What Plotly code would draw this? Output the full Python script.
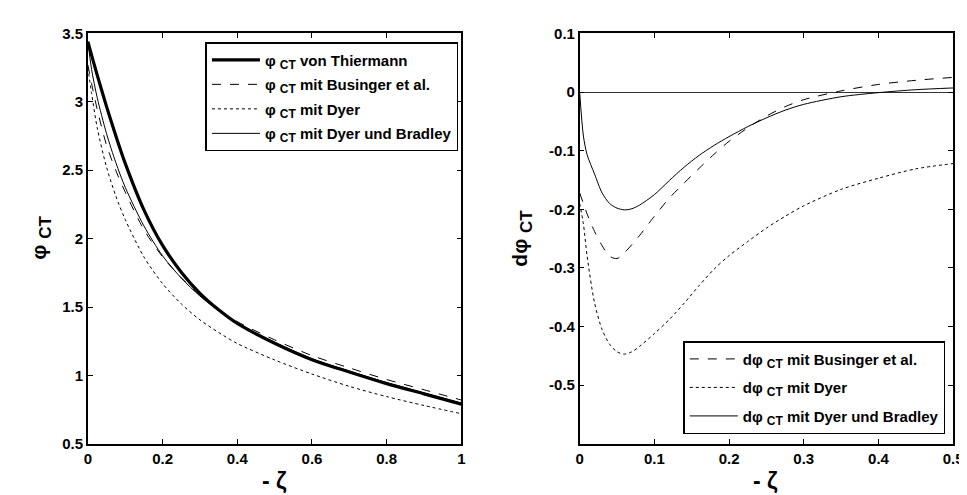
import plotly.graph_objects as go

# ---------------- data: left panel (phi_CT vs -zeta) ----------------
zeta_left = [0, 0.01, 0.025, 0.05, 0.075, 0.1, 0.15, 0.2, 0.25, 0.3, 0.35, 0.4, 0.5, 0.6, 0.7, 0.8, 0.9, 1.0]
phi_thiermann = [3.44, 3.34, 3.195, 2.965, 2.75, 2.55, 2.21, 1.95, 1.755, 1.60, 1.48, 1.38, 1.235, 1.115, 1.025, 0.94, 0.865, 0.79]
phi_businger = [3.27, 3.132, 2.945, 2.682, 2.497, 2.34, 2.065, 1.867, 1.714, 1.587, 1.482, 1.393, 1.26, 1.145, 1.055, 0.97, 0.895, 0.82]
phi_dyer = [3.25, 3.06, 2.81, 2.522, 2.31, 2.14, 1.866, 1.671, 1.523, 1.406, 1.314, 1.233, 1.113, 1.01, 0.92, 0.845, 0.78, 0.72]
phi_dyer_bradley = [3.44, 3.235, 3.03, 2.767, 2.554, 2.375, 2.093, 1.874, 1.712, 1.58, 1.472, 1.38, 1.242, 1.122, 1.032, 0.947, 0.872, 0.797]

# ---------------- data: right panel (d phi_CT vs -zeta) ----------------
zeta_right = [0, 0.005, 0.01, 0.02, 0.03, 0.04, 0.05, 0.06, 0.07, 0.08, 0.1, 0.12, 0.14, 0.16, 0.18, 0.2,
              0.225, 0.25, 0.275, 0.3, 0.35, 0.4, 0.45, 0.5]
dphi_businger = [-0.172, -0.19, -0.208, -0.238, -0.262, -0.280, -0.284, -0.274, -0.26, -0.245, -0.212, -0.181,
                 -0.155, -0.130, -0.106, -0.084, -0.061, -0.041, -0.025, -0.013, 0.002, 0.013, 0.020, 0.025]
dphi_dyer = [-0.19, -0.225, -0.28, -0.36, -0.405, -0.43, -0.443, -0.447, -0.443, -0.434, -0.412, -0.388,
             -0.36, -0.330, -0.302, -0.279, -0.255, -0.232, -0.212, -0.194, -0.166, -0.147, -0.131, -0.122]
dphi_dyer_bradley = [0, -0.075, -0.107, -0.14, -0.172, -0.19, -0.198, -0.201, -0.199, -0.193, -0.175, -0.151,
                     -0.128, -0.108, -0.091, -0.076, -0.059, -0.044, -0.031, -0.021, -0.008, -0.001, 0.004, 0.007]

# ---------------- tick labels ----------------
left_x_ticks = [0, 0.2, 0.4, 0.6, 0.8, 1]
left_x_labels = ["0", "0.2", "0.4", "0.6", "0.8", "1"]
left_y_ticks = [0.5, 1, 1.5, 2, 2.5, 3, 3.5]
left_y_labels = ["0.5", "1", "1.5", "2", "2.5", "3", "3.5"]
right_x_ticks = [0, 0.1, 0.2, 0.3, 0.4, 0.5]
right_x_labels = ["0", "0.1", "0.2", "0.3", "0.4", "0.5"]
right_y_ticks = [-0.5, -0.4, -0.3, -0.2, -0.1, 0, 0.1]
right_y_labels = ["-0.5", "-0.4", "-0.3", "-0.2", "-0.1", "0", "0.1"]

W, H = 967, 495
FONT = "Liberation Sans, Arial, sans-serif"
SUB = "<sub><span style='font-size:12px'>CT</span></sub>"

fig = go.Figure()

left_specs = [
    (f"φ {SUB} von Thiermann", phi_thiermann, dict(width=3.2, dash="solid")),
    (f"φ {SUB} mit Businger et al.", phi_businger, dict(width=1, dash="dash")),
    (f"φ {SUB} mit Dyer", phi_dyer, dict(width=1, dash="dot")),
    (f"φ {SUB} mit Dyer und Bradley", phi_dyer_bradley, dict(width=1, dash="solid")),
]
for i, (name, ys, ln) in enumerate(left_specs):
    fig.add_trace(go.Scatter(x=zeta_left, y=ys, mode="lines", name=name,
                             line=dict(color="black", shape="spline", smoothing=0.8, **ln),
                             xaxis="x", yaxis="y", legend="legend", legendgroup=f"l{i}"))

right_specs = [
    (f"dφ {SUB} mit Businger et al.", dphi_businger, dict(width=1, dash="dash")),
    (f"dφ {SUB} mit Dyer", dphi_dyer, dict(width=1, dash="dot")),
    (f"dφ {SUB} mit Dyer und Bradley", dphi_dyer_bradley, dict(width=1, dash="solid")),
]
for i, (name, ys, ln) in enumerate(right_specs):
    fig.add_trace(go.Scatter(x=zeta_right, y=ys, mode="lines", name=name,
                             line=dict(color="black", shape="spline", smoothing=0.8, **ln),
                             xaxis="x2", yaxis="y2", legend="legend2", legendgroup=f"r{i}"))

ydom = [1 - 442 / H, 1 - 17 / H]
tickfont = dict(family=FONT, size=15, color="black", weight="bold")
axis_common = dict(showline=True, linecolor="black", linewidth=1.5, mirror="ticks",
                   ticks="inside", ticklen=5, tickwidth=1, tickcolor="black",
                   showgrid=False, zeroline=False, tickfont=tickfont)

fig.update_layout(
    width=W, height=H,
    margin=dict(l=0, r=0, t=0, b=0),
    paper_bgcolor="white", plot_bgcolor="white",
    font=dict(family=FONT, color="black"),
    xaxis=dict(domain=[77 / W, 456 / W], range=[0, 1], tickvals=left_x_ticks, ticktext=left_x_labels,
               anchor="y", **axis_common),
    yaxis=dict(domain=ydom, range=[0.5, 3.5], tickvals=left_y_ticks, ticktext=left_y_labels,
               anchor="x", **axis_common),
    xaxis2=dict(domain=[576 / W, 955 / W], range=[0, 0.5], tickvals=right_x_ticks, ticktext=right_x_labels,
                anchor="y2", **axis_common),
    yaxis2=dict(domain=ydom, range=[-0.6, 0.1], tickvals=right_y_ticks, ticktext=right_y_labels,
                anchor="x2", **{**axis_common, "zeroline": True},
                zerolinecolor="#333333", zerolinewidth=1),
    legend=dict(x=453 / W, xanchor="right", y=1 - 26 / H, yanchor="top",
                bgcolor="white", bordercolor="black", borderwidth=1.5,
                font=dict(family=FONT, size=15, color="black", weight="bold"),
                itemwidth=48, tracegroupgap=2),
    legend2=dict(x=947 / W, xanchor="right", y=1 - 432 / H, yanchor="bottom",
                 bgcolor="white", bordercolor="black", borderwidth=1.5,
                 font=dict(family=FONT, size=15, color="black", weight="bold"),
                 itemwidth=48, tracegroupgap=6),
    showlegend=True,
)

title_font = dict(family=FONT, size=21, color="black", weight="bold")
YSUB = "<sub><span style='font-size:17px'>CT</span></sub>"
fig.add_annotation(text=f"φ {YSUB}", xref="paper", yref="paper", x=29 / W, y=1 - 229 / H,
                   textangle=-90, showarrow=False, font=title_font, xanchor="center", yanchor="middle")
fig.add_annotation(text=f"dφ {YSUB}", xref="paper", yref="paper", x=517 / W, y=1 - 229 / H,
                   textangle=-90, showarrow=False, font=title_font, xanchor="center", yanchor="middle")
fig.add_annotation(text="- ζ", xref="paper", yref="paper", x=266 / W, y=1 - 481 / H,
                   showarrow=False, font=dict(family=FONT, size=23, color="black", weight="bold"),
                   xanchor="center", yanchor="middle")
fig.add_annotation(text="- ζ", xref="paper", yref="paper", x=765 / W, y=1 - 481 / H,
                   showarrow=False, font=dict(family=FONT, size=23, color="black", weight="bold"),
                   xanchor="center", yanchor="middle")

fig.write_html("out.html")
